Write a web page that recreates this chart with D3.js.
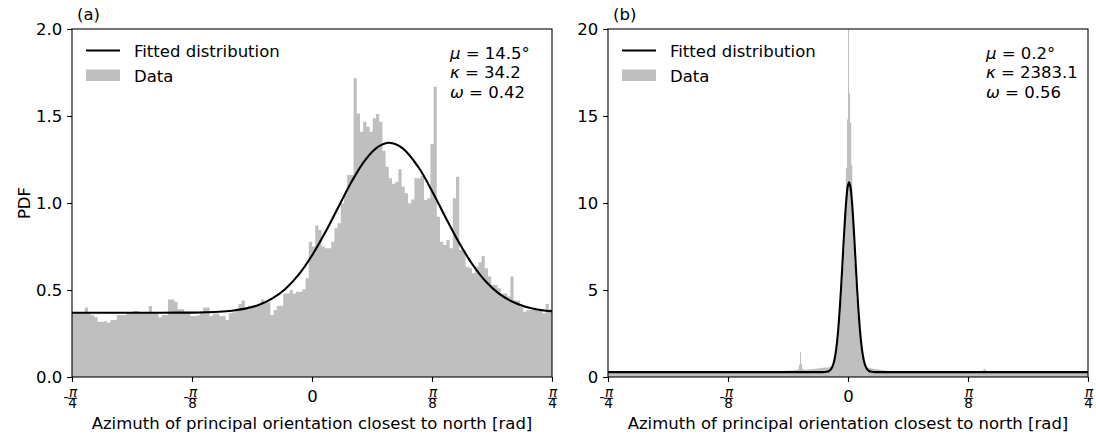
<!DOCTYPE html>
<html>
<head>
<meta charset="utf-8">
<script src="https://cdn.jsdelivr.net/npm/d3@7"></script>
<style>
  body { margin: 0; background: #fff; }
  svg text { font-family: "DejaVu Sans", sans-serif; fill: #000; }
</style>
</head>
<body>
<svg id="chart" width="1096" height="444"></svg>
<script>
// ---- panel (a): histogram, 150 equal bins over [-45°, 45°] ----
const histA = [
  0.366, 0.366, 0.370, 0.370, 0.400, 0.365, 0.355, 0.343, 0.318, 0.318,
  0.320, 0.312, 0.328, 0.328, 0.356, 0.356, 0.356, 0.373, 0.373, 0.379,
  0.379, 0.370, 0.370, 0.372, 0.408, 0.370, 0.370, 0.343, 0.356, 0.356,
  0.446, 0.446, 0.433, 0.390, 0.389, 0.370, 0.365, 0.350, 0.350, 0.355,
  0.379, 0.400, 0.400, 0.350, 0.365, 0.365, 0.350, 0.350, 0.328, 0.366,
  0.370, 0.380, 0.420, 0.440, 0.400, 0.410, 0.410, 0.410, 0.410, 0.446,
  0.430, 0.430, 0.356, 0.385, 0.410, 0.410, 0.480, 0.480, 0.500, 0.480,
  0.490, 0.490, 0.504, 0.567, 0.778, 0.750, 0.870, 0.845, 0.750, 0.740,
  0.740, 0.778, 0.855, 0.883, 0.998, 1.056, 1.161, 1.161, 1.717, 1.515,
  1.410, 1.467, 1.438, 1.410, 1.487, 1.511, 1.467, 1.300, 1.209, 1.142,
  1.110, 1.122, 1.194, 1.094, 1.056, 0.998, 1.020, 1.142, 1.142, 1.155,
  1.017, 1.027, 1.339, 1.668, 0.921, 0.778, 0.759, 0.787, 0.740, 1.027,
  1.151, 0.730, 0.730, 0.634, 0.625, 0.596, 0.634, 0.660, 0.695, 0.625,
  0.577, 0.529, 0.529, 0.510, 0.480, 0.480, 0.462, 0.577, 0.440, 0.440,
  0.404, 0.375, 0.385, 0.385, 0.390, 0.390, 0.385, 0.366, 0.420, 0.390
];

// fitted curve (a), read at these azimuths (degrees)
const fitADeg = [-45, -40, -35, -30, -25, -22.5, -20, -17.5, -15, -12.5, -10, -7.5, -5, -2.5,
  0, 2.5, 5, 7.5, 10, 12.5, 14.5, 17, 20, 22.5, 25, 27.5, 30, 32.5, 35, 37.5, 40, 42.5, 45];
const fitAVal = [0.369, 0.369, 0.369, 0.369, 0.370, 0.370, 0.372, 0.375, 0.381, 0.393, 0.414, 0.450, 0.506, 0.588,
  0.698, 0.832, 0.980, 1.126, 1.248, 1.325, 1.346, 1.314, 1.204, 1.069, 0.920, 0.776, 0.651, 0.552, 0.481, 0.434, 0.404, 0.387, 0.378];

// ---- panel (b): histogram, fine bins of 0.2° from -14° to 8°, flat runs elsewhere ----
const histBStart = -14;
const histBStep = 0.2;
const histBCenter = [
  0.29, 0.30, 0.30, 0.31, 0.32, 0.31, 0.33, 0.34, 0.33, 0.35,
  0.36, 0.35, 0.37, 0.36, 0.38, 0.37, 0.36, 0.38, 0.39, 0.37,
  0.40, 0.39, 0.42, 0.45, 0.70, 1.45, 0.75, 0.48, 0.42, 0.41,
  0.42, 0.43, 0.41, 0.44, 0.45, 0.43, 0.46, 0.44, 0.47, 0.48,
  0.47, 0.50, 0.49, 0.52, 0.51, 0.53, 0.52, 0.54, 0.55, 0.55,
  0.55, 0.56, 0.57, 0.60, 0.62, 0.68, 0.80, 0.95, 1.20, 1.55,
  2.05, 2.70, 3.45, 4.35, 5.30, 6.30, 7.30, 9.00, 12.0, 14.8,
  20.5, 16.3, 14.6, 12.2, 9.20, 7.60, 6.50, 5.40, 4.40, 3.50,
  2.70, 2.05, 1.55, 1.20, 0.95, 0.78, 0.66, 0.58, 0.55, 0.53,
  0.52, 0.50, 0.49, 0.48, 0.47, 0.46, 0.45, 0.44, 0.43, 0.42,
  0.41, 0.40, 0.39, 0.38, 0.37, 0.36, 0.36, 0.35, 0.34, 0.33
];
// [from°, to°, value]
const histBRuns = [[-45, -14, 0.28], [8, 9.5, 0.31], [9.5, 25.4, 0.28], [25.4, 25.8, 0.44], [25.8, 45, 0.28]];

const fitBDeg = [-45, -10, -5, -4.3, -3.8, -3.55, -3.3, -3.05, -2.8, -2.55, -2.3, -2.05, -1.8, -1.55, -1.3, -1.05,
  -0.8, -0.55, -0.3, -0.05, 0.2, 0.45, 0.7, 0.95, 1.2, 1.45, 1.7, 1.95, 2.2, 2.45, 2.7, 2.95, 3.2, 3.45,
  3.7, 3.95, 4.2, 4.7, 5.4, 10, 45];
const fitBVal = [0.280, 0.280, 0.280, 0.287, 0.313, 0.346, 0.408, 0.516, 0.697, 0.982, 1.409, 2.017, 2.835, 3.871, 5.102, 6.467,
  7.867, 9.173, 10.24, 10.94, 11.19, 10.94, 10.24, 9.173, 7.867, 6.467, 5.102, 3.871, 2.835, 2.017, 1.409, 0.982, 0.697, 0.516,
  0.408, 0.346, 0.313, 0.287, 0.280, 0.280, 0.280];

// ticks
const xTickVals = [-45, -22.5, 0, 22.5, 45];
const xTickLabels = [["-", "4"], ["-", "8"], null, ["", "8"], ["", "4"]];
const yTicksA = [0, 0.5, 1.0, 1.5, 2.0];
const yTicksB = [0, 5, 10, 15, 20];

const svg = d3.select("#chart");
const plotTop = 29, plotBottom = 377;
const fontSize = 16.5;
const fracSize = 13.5;
const grey = "#bfbfbf";

// build step points for a histogram from [start, end, value] bins
function stepPoints(bins) {
  const pts = bins.map(b => [b[0], b[2]]);
  const last = bins[bins.length - 1];
  pts.push([last[1], last[2]]);
  return pts;
}

function drawPanel(opts) {
  const x = d3.scaleLinear().domain([-45, 45]).range([opts.left, opts.left + 480]);
  const y = d3.scaleLinear().domain([0, opts.ymax]).range([plotBottom, plotTop]);
  const g = svg.append("g");

  const clipId = "clip-" + opts.tag;
  svg.append("clipPath").attr("id", clipId)
    .append("rect").attr("x", x(-45)).attr("y", plotTop).attr("width", 480).attr("height", plotBottom - plotTop);

  const area = d3.area()
    .x(d => x(d[0])).y0(y(0)).y1(d => y(d[1]))
    .curve(d3.curveStepAfter);
  g.append("path")
    .datum(stepPoints(opts.bins))
    .attr("clip-path", `url(#${clipId})`)
    .attr("fill", grey)
    .attr("d", area);

  const line = d3.line().x(d => x(d[0])).y(d => y(d[1])).curve(d3.curveCatmullRom);
  g.append("path")
    .datum(opts.fitDeg.map((d, i) => [d, opts.fitVal[i]]))
    .attr("clip-path", `url(#${clipId})`)
    .attr("fill", "none").attr("stroke", "#000").attr("stroke-width", 2.1)
    .attr("d", line);

  // y axis
  const yAxis = g.append("g").attr("transform", `translate(${opts.left},0)`)
    .call(d3.axisLeft(y).tickValues(opts.yTicks).tickSize(4.9).tickPadding(4.9).tickSizeOuter(0)
      .tickFormat(opts.yFmt));
  yAxis.select(".domain").remove();
  yAxis.selectAll("line").attr("stroke-width", 1.1);
  yAxis.selectAll("text").attr("font-size", fontSize).attr("font-family", "DejaVu Sans");

  // x axis with fraction labels (one text per tick so the parts stay together)
  const xAxis = g.append("g").attr("transform", `translate(0,${plotBottom})`)
    .call(d3.axisBottom(x).tickValues(xTickVals).tickSize(4.9).tickSizeOuter(0).tickFormat(""));
  xAxis.select(".domain").remove();
  xAxis.selectAll("line").attr("stroke-width", 1.1);
  xAxis.selectAll(".tick").each(function (d, i) {
    const t = d3.select(this);
    const lab = xTickLabels[i];
    if (!lab) {
      t.append("text").attr("y", 25).attr("text-anchor", "middle")
        .attr("font-size", fontSize).text("0");
      return;
    }
    const txt = t.append("text").attr("text-anchor", "middle").attr("font-size", fracSize);
    txt.append("tspan").attr("x", 0.5).attr("y", 19.6).attr("font-style", "italic").text("π");
    txt.append("tspan").attr("x", 0).attr("y", 31).text(lab[1]);
    if (lab[0]) {
      txt.append("tspan").attr("x", -6.6).attr("y", 25).text(lab[0]);
    }
    t.append("line").attr("x1", -4.6).attr("x2", 4.6).attr("y1", 21.3).attr("y2", 21.3)
      .attr("stroke", "#000").attr("stroke-width", 1);
  });

  // spines
  g.append("rect").attr("x", x(-45)).attr("y", plotTop).attr("width", 480).attr("height", plotBottom - plotTop)
    .attr("fill", "none").attr("stroke", "#000").attr("stroke-width", 1.1);

  // x label
  g.append("text").attr("x", opts.left + 240).attr("y", 429).attr("text-anchor", "middle")
    .attr("font-size", fontSize).text("Azimuth of principal orientation closest to north [rad]");

  // panel tag
  g.append("text").attr("x", opts.left + 5).attr("y", 20).attr("font-size", fontSize).text(opts.label);

  // legend
  const lx = opts.left + 14;
  g.append("line").attr("x1", lx).attr("x2", lx + 34).attr("y1", 50.5).attr("y2", 50.5)
    .attr("stroke", "#000").attr("stroke-width", 2.1);
  g.append("text").attr("x", lx + 48).attr("y", 56.5).attr("font-size", fontSize).text("Fitted distribution");
  g.append("rect").attr("x", lx).attr("y", 69.5).attr("width", 34).attr("height", 11.5).attr("fill", grey);
  g.append("text").attr("x", lx + 48).attr("y", 81.5).attr("font-size", fontSize).text("Data");

  // parameters
  const ax = opts.left + 378;
  opts.params.forEach((p, i) => {
    const t = g.append("text").attr("x", ax).attr("y", 58.5 + i * 19.5).attr("font-size", fontSize);
    t.append("tspan").attr("font-style", "italic").text(p[0]);
    t.append("tspan").text(" = " + p[1]);
  });
}

const binsA = histA.map((v, i) => [-45 + i * 0.6, -45 + (i + 1) * 0.6, v]);
const binsB = [histBRuns[0]]
  .concat(histBCenter.map((v, i) => [histBStart + i * histBStep, histBStart + (i + 1) * histBStep, v]))
  .concat(histBRuns.slice(1));

drawPanel({
  tag: "a", left: 72, ymax: 2, bins: binsA, fitDeg: fitADeg, fitVal: fitAVal,
  yTicks: yTicksA, yFmt: d3.format(".1f"), label: "(a)",
  params: [["μ", "14.5°"], ["κ", "34.2"], ["ω", "0.42"]]
});
drawPanel({
  tag: "b", left: 608, ymax: 20, bins: binsB, fitDeg: fitBDeg, fitVal: fitBVal,
  yTicks: yTicksB, yFmt: d3.format("d"), label: "(b)",
  params: [["μ", "0.2°"], ["κ", "2383.1"], ["ω", "0.56"]]
});

// y label (panel a only)
svg.append("text").attr("transform", "translate(30,203) rotate(-90)").attr("text-anchor", "middle")
  .attr("font-size", fontSize).text("PDF");
</script>
</body>
</html>
